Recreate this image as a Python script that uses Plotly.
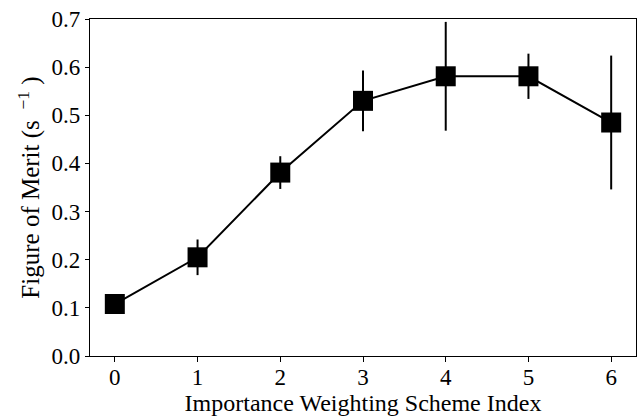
import plotly.graph_objects as go

scheme_index = [0, 1, 2, 3, 4, 5, 6]
figure_of_merit = [0.108, 0.205, 0.381, 0.530, 0.581, 0.581, 0.485]
fom_error = [0.0, 0.037, 0.034, 0.063, 0.113, 0.047, 0.139]

fig = go.Figure()
fig.add_trace(go.Scatter(
    x=scheme_index, y=figure_of_merit,
    mode="lines+markers",
    line=dict(color="black", width=2),
    marker=dict(symbol="square", size=20, color="black"),
    error_y=dict(type="data", array=fom_error, visible=True, color="black", thickness=2, width=0),
    showlegend=False,
))

family = "Liberation Serif, Times New Roman, serif"
nb = "\u00a0"
fig.update_layout(
    width=640, height=417,
    margin=dict(l=90, r=4, t=19, b=61),
    plot_bgcolor="white", paper_bgcolor="white",
    font=dict(family=family, size=24, color="black"),
    xaxis=dict(
        range=[-0.3, 6.3], tickvals=scheme_index, ticks="outside", ticklen=5,
        tickcolor="black", showline=True, linecolor="black", linewidth=1.2, mirror=True,
        showgrid=False, zeroline=False, tickfont=dict(family=family, size=23),
        ticklabelstandoff=-5,
        title=dict(text="Importance Weighting Scheme Index", standoff=4, font=dict(family=family, size=24)),
    ),
    yaxis=dict(
        range=[0, 0.7], dtick=0.1, tickformat=".1f", ticks="outside", ticklen=4,
        tickcolor="black", showline=True, linecolor="black", linewidth=1.2, mirror=True,
        showgrid=False, zeroline=False, tickfont=dict(family=family, size=23),
        title=dict(text="Figure of Merit (s" + nb + "<sup>" + nb + "−1</sup>" + nb + ")", standoff=4,
                   font=dict(family=family, size=25)),
    ),
)
fig.write_html("out.html", post_script="document.body.style.margin='0';",
               config={"displayModeBar": False})
